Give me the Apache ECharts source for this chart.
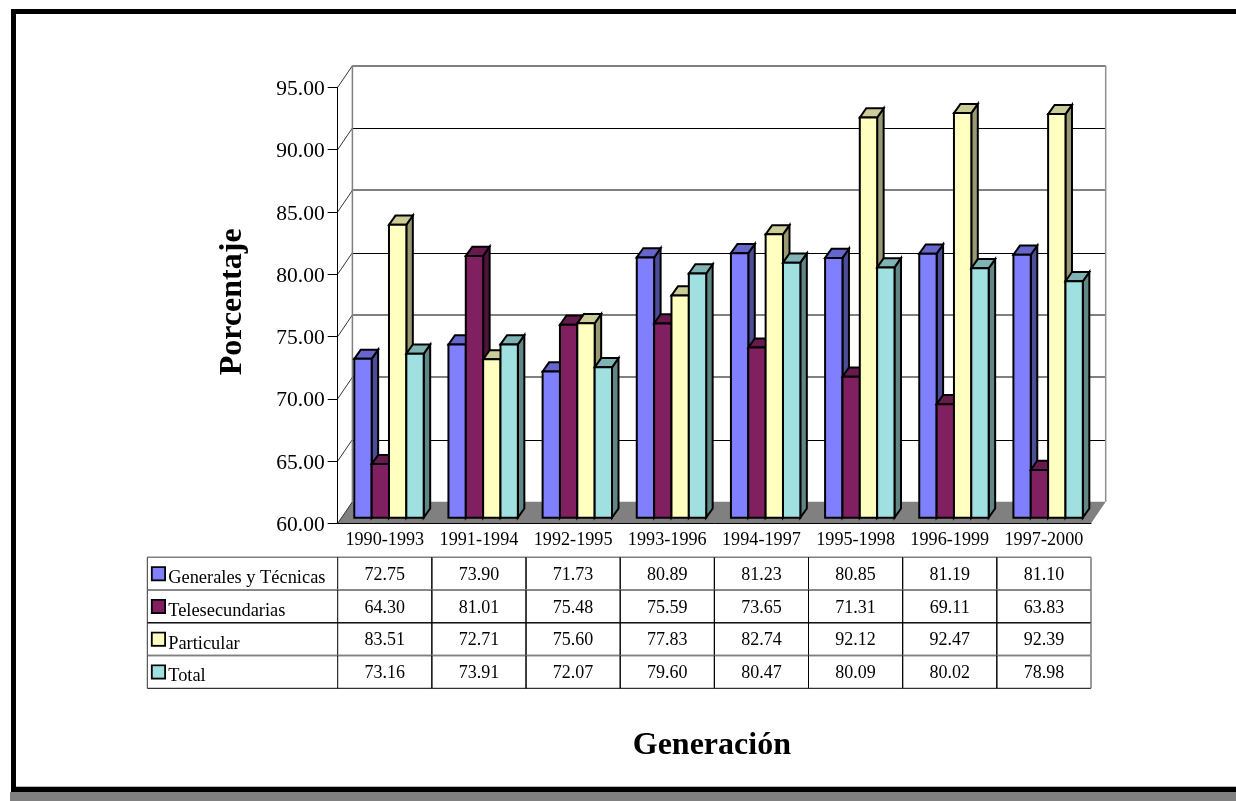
<!DOCTYPE html>
<html><head><meta charset="utf-8">
<style>html,body{margin:0;padding:0;background:#fff}#c{width:1236px;height:801px}</style>
<script src="https://cdn.jsdelivr.net/npm/echarts@6/dist/echarts.min.js"></script>
</head><body><div id="c"></div>
<script>
const categories = ['1990-1993','1991-1994','1992-1995','1993-1996','1994-1997','1995-1998','1996-1999','1997-2000'];
const generales = [72.75,73.90,71.73,80.89,81.23,80.85,81.19,81.10];
const telesecundarias = [64.30,81.01,75.48,75.59,73.65,71.31,69.11,63.83];
const particular = [83.51,72.71,75.60,77.83,82.74,92.12,92.47,92.39];
const total = [73.16,73.91,72.07,79.60,80.47,80.09,80.02,78.98];
const seriesNames = ['Generales y Técnicas','Telesecundarias','Particular','Total'];
const yTicks = [60,65,70,75,80,85,90,95];

const font = '"Liberation Serif", serif';
const allValues = [generales, telesecundarias, particular, total];
const palettes = [
  {front:'#8080FF', top:'#6666CC', side:'#4C4C99', key:'k0'},
  {front:'#802060', top:'#661A4D', side:'#4D1339', key:'k1'},
  {front:'#FFFFC0', top:'#CCCC99', side:'#999973', key:'k2'},
  {front:'#A0E0E0', top:'#80B3B3', side:'#608686', key:'k3'}
];
const wall = {dx:14.7, dy:-21.6};
const bar = {w:17.35, shift:4.2, lift:5.7, dx:6.5, dy:-9.2};
const wallStyle = {65:['#000',1],70:['#808080',2],75:['#808080',2],80:['#000',1],85:['#808080',2],90:['#000',1],95:['#808080',2]};

function renderWall(params, api){
  const v = api.value(0), cs = params.coordSys;
  const p = api.coord([0, v]);
  const L = cs.x, R = cs.x + cs.width, y = p[1];
  const kids = [];
  if (v === yTicks[0]) {
    kids.push({type:'polygon', shape:{points:[[L,y],[R,y],[R+wall.dx,y+wall.dy],[L+wall.dx,y+wall.dy]]}, style:{fill:'#808080'}});
  } else {
    const s = wallStyle[v], by = s[1]===1 ? Math.round(y+wall.dy)+0.5 : Math.round(y+wall.dy);
    kids.push({type:'line', shape:{x1:L+wall.dx,y1:by,x2:R+wall.dx,y2:by}, style:{stroke:s[0],lineWidth:s[1]}});
  }
  kids.push({type:'line', shape:{x1:L,y1:y,x2:L+wall.dx,y2:y+wall.dy}, style:{stroke:'#333',lineWidth:1}});
  if (v === yTicks[yTicks.length-1]) {
    const b = api.coord([0, yTicks[0]])[1];
    kids.push({type:'line', shape:{x1:L+wall.dx,y1:y+wall.dy,x2:L+wall.dx,y2:b+wall.dy}, style:{stroke:'#808080',lineWidth:1.5}});
    kids.push({type:'line', shape:{x1:R+wall.dx,y1:y+wall.dy,x2:R+wall.dx,y2:b+wall.dy}, style:{stroke:'#909090',lineWidth:1.5}});
  }
  return {type:'group', children:kids};
}

function barRenderer(idx){
  const c = palettes[idx];
  return function(params, api){
    const cat = api.value(0), val = api.value(1);
    const p = api.coord([cat, val]);
    const base = api.coord([cat, yTicks[0]])[1] - bar.lift;
    const band = api.size([1,0])[0];
    const x0 = p[0] - band/2 + (band - bar.w*4)/2 + bar.shift + idx*bar.w;
    const x1 = x0 + bar.w, yt = p[1] - bar.lift;
    const st = f => ({fill:f, stroke:'#000', lineWidth:2, lineJoin:'miter'});
    return {type:'group', children:[
      {type:'polygon', shape:{points:[[x1,yt],[x1+bar.dx,yt+bar.dy],[x1+bar.dx,base+bar.dy],[x1,base]]}, style:st(c.side)},
      {type:'polygon', shape:{points:[[x0,yt],[x0+bar.dx,yt+bar.dy],[x1+bar.dx,yt+bar.dy],[x1,yt]]}, style:st(c.top)},
      {type:'rect', shape:{x:x0,y:yt,width:bar.w,height:base-yt}, style:st(c.front)}
    ]};
  };
}

const rowLines = [['#808080',1.6],['#808080',1.6],['#000',1],['#808080',1.6],['#000',1]];
const leftColumn = 190.4;
function renderTable(params, api){
  const col = api.value(0), row = api.value(1);
  const p = api.coord([col,row]);
  const size = api.size([1,1]);
  const x0 = p[0]-size[0]/2, x1 = p[0]+size[0]/2, y0 = p[1]-size[1]/2, y1 = p[1]+size[1]/2;
  const kids = [];
  const left = col===0 ? x0-leftColumn : x0;
  const top = rowLines[row], bot = rowLines[row+1];
  kids.push({type:'line', shape:{x1:left,y1:y0,x2:x1,y2:y0}, style:{stroke:top[0],lineWidth:top[1]}});
  kids.push({type:'line', shape:{x1:left,y1:y1,x2:x1,y2:y1}, style:{stroke:bot[0],lineWidth:bot[1]}});
  const vc = col===categories.length-1 ? '#808080' : '#000';
  kids.push({type:'line', shape:{x1:x1,y1:y0,x2:x1,y2:y1}, style:{stroke:vc,lineWidth:col===categories.length-1?1.6:1}});
  kids.push({type:'line', shape:{x1:x0,y1:y0,x2:x0,y2:y1}, style:{stroke:'#000',lineWidth:1}});
  if (col===0) kids.push({type:'line', shape:{x1:left,y1:y0,x2:left,y2:y1}, style:{stroke:'#333',lineWidth:1}});
  kids.push({type:'text', style:{x:p[0],y:p[1]+1.5,text:allValues[row][col].toFixed(2),fill:'#000',font:'18px '+font,align:'center',verticalAlign:'middle'}});
  return {type:'group', children:kids};
}

const tableData = [];
seriesNames.forEach((n,r)=>categories.forEach((c,j)=>tableData.push([j,r])));
const rowRich = {t:{fontFamily:font,fontSize:18.4,color:'#000',padding:[9,0,0,4]}};
palettes.forEach(c=>{rowRich[c.key]={width:11.5,height:11.5,backgroundColor:c.front,borderColor:'#000',borderWidth:1.8};});

const chart = echarts.init(document.getElementById('c'), null, {renderer:'canvas'});
chart.setOption({
  animation:false,
  backgroundColor:'#fff',
  textStyle:{fontFamily:font},
  grid:[
    {left:337.7, top:87.3, width:753.3, height:436.1},
    {left:337.7, top:557.3, width:753.3, height:131}
  ],
  xAxis:[
    {gridIndex:0, type:'category', data:categories, z:5,
     axisLine:{lineStyle:{color:'#000',width:1}},
     axisTick:{length:33.5, inside:false, lineStyle:{color:'#000'}},
     axisLabel:{fontFamily:font,fontSize:18.2,color:'#000',margin:8,interval:0},
     splitLine:{show:false}},
    {gridIndex:1, type:'category', data:categories, axisLine:{show:false}, axisTick:{show:false}, axisLabel:{show:false},
     name:'Generación', nameLocation:'middle', nameGap:41,
     nameTextStyle:{fontFamily:font,fontSize:32,fontWeight:'bold',color:'#000',padding:[0,5,0,0]}}
  ],
  yAxis:[
    {gridIndex:0, type:'value', min:60, max:95, interval:5, z:5,
     name:'Porcentaje', nameLocation:'middle', nameGap:89, nameRotate:90,
     nameTextStyle:{fontFamily:font,fontSize:32,fontWeight:'bold',color:'#000',padding:[0,0,0,7]},
     axisLine:{show:true,lineStyle:{color:'#000',width:1}},
     axisTick:{show:true,length:10,lineStyle:{color:'#000'}},
     axisLabel:{margin:13,formatter:v=>'{a|'+v.toFixed(2)+'}',
       rich:{a:{fontFamily:font,fontSize:21.5,color:'#000',padding:[4,0,0,0]}}},
     splitLine:{show:false}},
    {gridIndex:1, type:'category', inverse:true, data:seriesNames,
     axisLine:{show:false}, axisTick:{show:false},
     axisLabel:{interval:0, align:'left', margin:185,
       formatter:(v,i)=>'{'+palettes[i].key+'|}{t|'+v+'}', rich:rowRich}}
  ],
  series:[
    {type:'custom', name:'Paredes', xAxisIndex:0, yAxisIndex:0, data:yTicks.map(v=>[v]), encode:{y:0}, renderItem:renderWall, silent:true, clip:false, z:1},
    ...seriesNames.map((n,i)=>({type:'custom', name:n, xAxisIndex:0, yAxisIndex:0,
      data:allValues[i].map((v,j)=>[j,v]), encode:{x:0,y:1}, renderItem:barRenderer(i), clip:false, z:2})),
    {type:'custom', name:'Tabla', xAxisIndex:1, yAxisIndex:1, data:tableData, encode:{x:0,y:1}, renderItem:renderTable, clip:false, silent:true, z:2}
  ],
  graphic:[
    {type:'rect', shape:{x:10,y:792,width:1226,height:9}, style:{fill:'#808080'}, silent:true},
    {type:'rect', shape:{x:11,y:787,width:1225,height:5}, style:{fill:'#000'}, silent:true},
    {type:'rect', shape:{x:16,y:786,width:1220,height:1}, style:{fill:'#bbb'}, silent:true},
    {type:'rect', shape:{x:11,y:9,width:1225,height:5}, style:{fill:'#000'}, silent:true},
    {type:'rect', shape:{x:11,y:9,width:5,height:783}, style:{fill:'#000'}, silent:true}
  ]
});
</script></body></html>
